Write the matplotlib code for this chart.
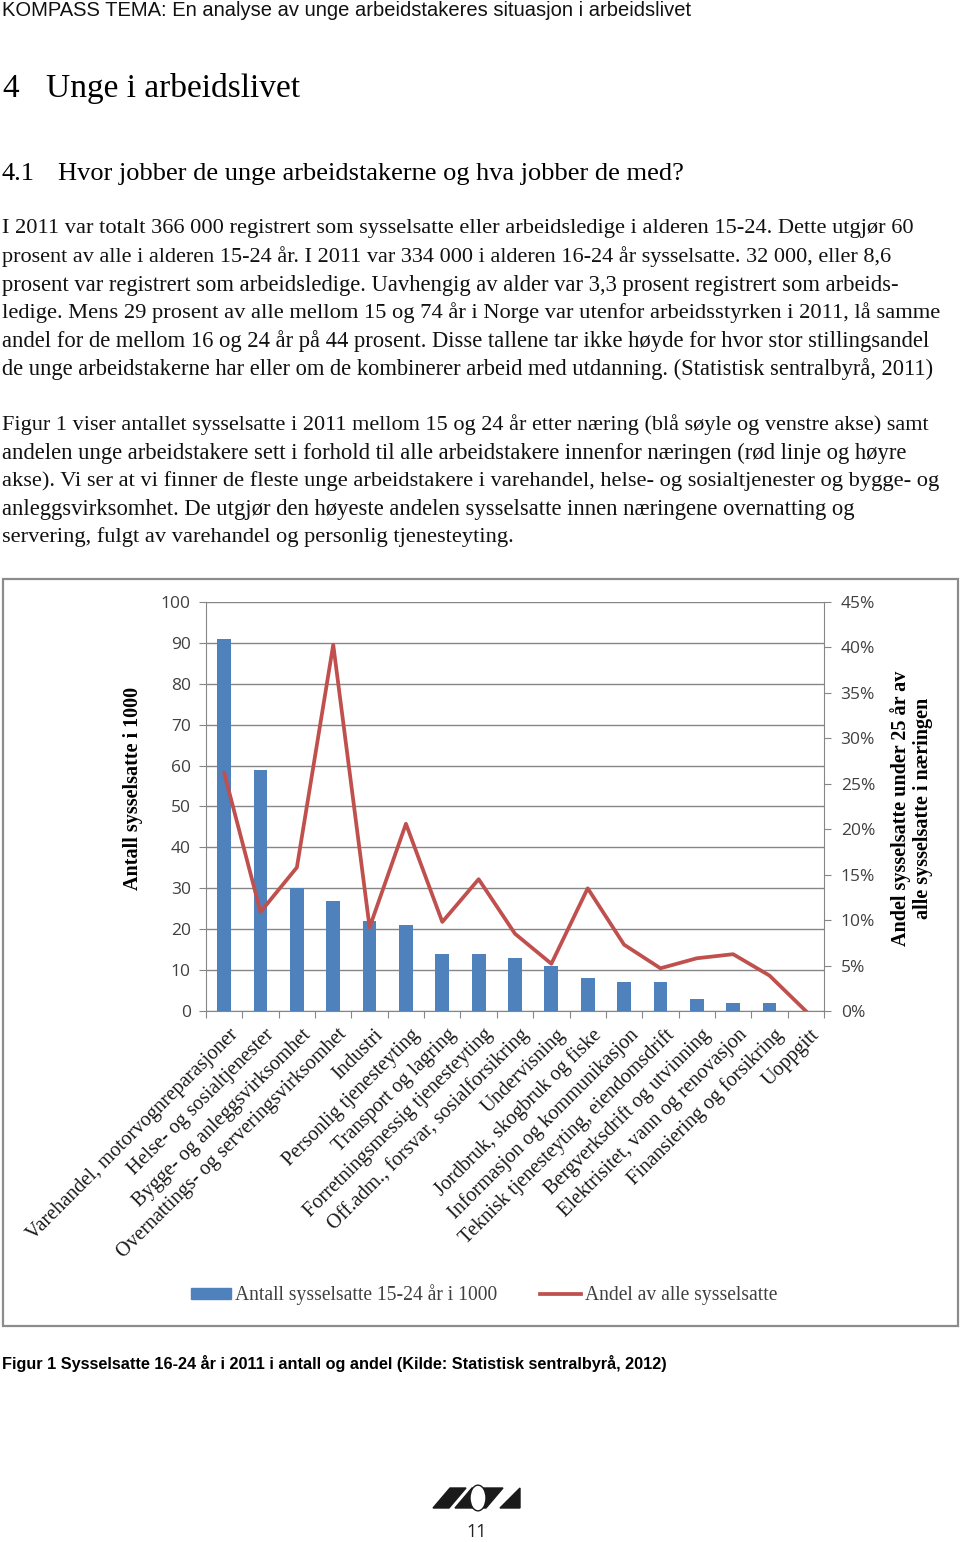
import matplotlib
matplotlib.use("Agg")
import matplotlib.pyplot as plt
from matplotlib.patches import Rectangle, Polygon, Circle
from matplotlib.lines import Line2D
import numpy as np

# ======== data ==========
naeringer = [
    "Varehandel, motorvognreparasjoner",
    "Helse- og sosialtjenester",
    "Bygge- og anleggsvirksomhet",
    "Overnattings- og serveringsvirksomhet",
    "Industri",
    "Personlig tjenesteyting",
    "Transport og lagring",
    "Forretningsmessig tjenesteyting",
    "Off.adm., forsvar, sosialforsikring",
    "Undervisning",
    "Jordbruk, skogbruk og fiske",
    "Informasjon og kommunikasjon",
    "Teknisk tjenesteyting, eiendomsdrift",
    "Bergverksdrift og utvinning",
    "Elektrisitet, vann og renovasjon",
    "Finansiering og forsikring",
    "Uoppgitt",
]
antall = [91, 59, 30, 27, 22, 21, 14, 14, 13, 11, 8, 7, 7, 3, 2, 2, 0]
andel = [26.2, 10.9, 15.8, 40.3, 9.2, 20.6, 9.8, 14.5, 8.5, 5.2, 13.5, 7.3, 4.7, 5.8, 6.25, 3.9, 0.0]

left_ticks = [0, 10, 20, 30, 40, 50, 60, 70, 80, 90, 100]
right_ticks = [0, 5, 10, 15, 20, 25, 30, 35, 40, 45]

para1 = [
    "I 2011 var totalt 366 000 registrert som sysselsatte eller arbeidsledige i alderen 15-24. Dette utgjør 60",
    "prosent av alle i alderen 15-24 år. I 2011 var 334 000 i alderen 16-24 år sysselsatte. 32 000, eller 8,6",
    "prosent var registrert som arbeidsledige. Uavhengig av alder var 3,3 prosent registrert som arbeids-",
    "ledige. Mens 29 prosent av alle mellom 15 og 74 år i Norge var utenfor arbeidsstyrken i 2011, lå samme",
    "andel for de mellom 16 og 24 år på 44 prosent. Disse tallene tar ikke høyde for hvor stor stillingsandel",
    "de unge arbeidstakerne har eller om de kombinerer arbeid med utdanning. (Statistisk sentralbyrå, 2011)",
]
para2 = [
    "Figur 1 viser antallet sysselsatte i 2011 mellom 15 og 24 år etter næring (blå søyle og venstre akse) samt",
    "andelen unge arbeidstakere sett i forhold til alle arbeidstakere innenfor næringen (rød linje og høyre",
    "akse). Vi ser at vi finner de fleste unge arbeidstakere i varehandel, helse- og sosialtjenester og bygge- og",
    "anleggsvirksomhet. De utgjør den høyeste andelen sysselsatte innen næringene overnatting og",
    "servering, fulgt av varehandel og personlig tjenesteyting.",
]
# right edge of each printed line in the page (px)
para1_ends = [918, 898, 905, 943, 933, 938]
para2_ends = [938, 908, 942, 856, 514]

W, H = 960, 1542
BLUE = "#4F81BD"
RED = "#C0504D"
GRID = "#868686"
SERIF = ["Liberation Serif", "DejaVu Serif"]
SANS = ["Liberation Sans", "DejaVu Sans"]


def fy(y):
    return 1 - y / H


def fx(x):
    return x / W


fig = plt.figure(figsize=(W / 100, H / 100), dpi=100)
fig.patch.set_facecolor("white")

# ======== page text ==========
fig.text(fx(2), fy(10), "KOMPASS TEMA: En analyse av unge arbeidstakeres situasjon i arbeidslivet",
         family=SANS, fontsize=14.5, va="center", ha="left", color="#111111")
fig.text(fx(2), fy(89), "4", family=SERIF, fontsize=24, va="center")
fig.text(fx(46), fy(89), "Unge i arbeidslivet", family=SERIF, fontsize=24, va="center")
fig.text(fx(2), fy(174), "4.1", family=SERIF, fontsize=19, va="center")
fig.text(fx(58), fy(174), "Hvor jobber de unge arbeidstakerne og hva jobber de med?",
         family=SERIF, fontsize=19, va="center")

renderer = fig.canvas.get_renderer()


def body_line(y, text, x_end):
    t = fig.text(fx(2), fy(y), text, family=SERIF, fontsize=14, va="center", color="#111111")
    w = t.get_window_extent(renderer).width
    t.set_fontsize(14 * (x_end - 2) / w)


for i, line in enumerate(para1):
    body_line(229 + 28 * i, line, para1_ends[i])
for i, line in enumerate(para2):
    body_line(425 + 28 * i, line, para2_ends[i])

# ======== chart frame ==========
fig.patches.append(Rectangle((fx(3), fy(1326)), fx(955), 747 / H, transform=fig.transFigure,
                             fill=False, edgecolor="#8c8c8c", linewidth=1.6))

ax = fig.add_axes([fx(206), fy(1011), fx(618), 409 / H])
x = np.arange(len(naeringer))
ax.bar(x, antall, width=0.38, color=BLUE, zorder=3)
ax.set_xlim(-0.5, len(naeringer) - 0.5)
ax.set_ylim(0, 100)
ax.set_yticks(left_ticks)
ax.yaxis.grid(True, color=GRID, linewidth=1, zorder=0)
ax.set_axisbelow(True)
for s in ["top", "right"]:
    ax.spines[s].set_visible(False)
ax.spines["left"].set_color(GRID)
ax.spines["bottom"].set_color(GRID)
ax.tick_params(axis="y", direction="out", length=5, color=GRID, labelsize=12.5,
               labelcolor="#404040", pad=6)
for lab in ax.get_yticklabels():
    lab.set_family(["Open Sans", "DejaVu Sans"])

ax.set_xticks(np.arange(len(naeringer) + 1) - 0.5, minor=False)
ax.set_xticklabels([])
ax.tick_params(axis="x", direction="out", length=5, color=GRID)
for i, name in enumerate(naeringer):
    ax.text(i + 0.12, -3.5, name, rotation=45, rotation_mode="anchor", ha="right", va="top",
            family=SERIF, fontsize=14.6, color="#1a1a1a")

ax.set_ylabel("Antall sysselsatte i 1000", family=SERIF, fontweight="bold", fontsize=14.5)
ax.yaxis.set_label_coords(-0.102, 0.545)

ax2 = ax.twinx()
ax2.plot(x, andel, color=RED, linewidth=2.7, zorder=4)
ax2.set_ylim(0, 45)
ax2.set_yticks(right_ticks)
ax2.set_yticklabels([f"{v}%" for v in right_ticks])
for s in ["top", "left", "bottom"]:
    ax2.spines[s].set_visible(False)
ax2.spines["right"].set_color(GRID)
ax2.tick_params(axis="y", direction="out", length=5, color=GRID, labelsize=12.5,
                labelcolor="#404040", pad=7)
for lab in ax2.get_yticklabels():
    lab.set_family(["Open Sans", "DejaVu Sans"])
ax2.set_ylabel("Andel sysselsatte under 25 år av\nalle sysselsatte i næringen", family=SERIF,
               fontweight="bold", fontsize=14.5, linespacing=1.1)
ax2.yaxis.set_label_coords(1.107, 0.495)

# legend
handles = [Rectangle((0, 0), 1, 1, color=BLUE), Line2D([0], [0], color=RED, linewidth=2.7)]
fig.legend(handles, ["Antall sysselsatte 15-24 år i 1000", "Andel av alle sysselsatte"],
           loc="center", bbox_to_anchor=(fx(484), fy(1295)), ncol=2, frameon=False,
           prop={"family": SERIF, "size": 14.1}, labelcolor="#404040", handlelength=2.05,
           handleheight=0.5, handletextpad=0.2, columnspacing=2.2)

# ======== caption and footer ==========
fig.text(fx(2), fy(1364), "Figur 1 Sysselsatte 16-24 år i 2011 i antall og andel (Kilde: Statistisk sentralbyrå, 2012)",
         family=SANS, fontsize=11.7, fontweight="bold", va="center")

logo = [
    [(433, 1508), (450, 1488), (466, 1488), (449, 1508)],
    [(455, 1508), (472, 1488), (503, 1488), (486, 1508)],
    [(500, 1508), (520, 1488), (520, 1508)],
]
for pts in logo:
    fig.patches.append(Polygon([(fx(a), fy(b)) for a, b in pts], closed=True,
                               transform=fig.transFigure, color="#1a1a1a"))
fig.patches.append(Circle((fx(478), fy(1498)), 8 / W, transform=fig.transFigure,
                          facecolor="white", edgecolor="#1a1a1a", linewidth=1))
fig.text(fx(477), fy(1532), "11", family=["Open Sans", "DejaVu Sans"], fontsize=13,
         ha="center", va="center", color="#222222")

fig.savefig("out.png", dpi=100, facecolor="white")
